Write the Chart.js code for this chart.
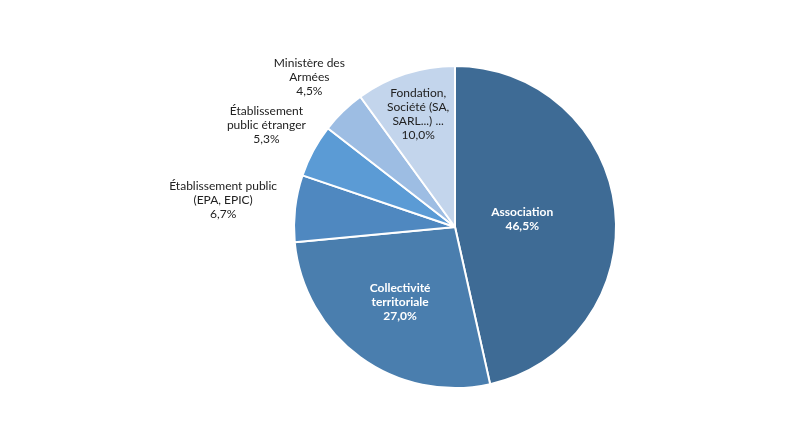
<!DOCTYPE html>
<html><head><meta charset="utf-8">
<script src="https://cdn.jsdelivr.net/npm/chart.js@4"></script>
<style>html,body{margin:0;background:#fff}#wrap{width:792px;height:445px}</style>
</head><body><div id="wrap"><canvas id="c"></canvas></div>
<script>
const categories = ["Association", "Collectivité territoriale", "Établissement public (EPA, EPIC)", "Établissement public étranger", "Ministère des Armées", "Fondation, Société (SA, SARL...) ..."];
const shares = [46.5, 27.0, 6.7, 5.3, 4.5, 10.0];
const labelLines = [["Association"], ["Collectivité", "territoriale"], ["Établissement public", "(EPA, EPIC)"], ["Établissement", "public étranger"], ["Ministère des", "Armées"], ["Fondation,", "Société (SA,", "SARL...) ..."]];
const colors = ["#3e6b95", "#4a7eae", "#4f88c0", "#5b9bd5", "#9dbde3", "#c3d5ec"];

// facteur du rayon pour placer chaque étiquette
const labelRadius = [0.42, 0.58, 1.45, 1.33, 1.3, 0.74];
const labelColor = ["#fff", "#fff", "#222", "#222", "#222", "#222"];

const labelPlugin = {
  id: "labels",
  afterDatasetsDraw(chart) {
    const ctx = chart.ctx;
    chart.getDatasetMeta(0).data.forEach((arc, i) => {
      const p = arc.getProps(["x", "y", "startAngle", "endAngle", "outerRadius"]);
      const a = (p.startAngle + p.endAngle) / 2;
      const r = p.outerRadius * labelRadius[i];
      const x = p.x + Math.cos(a) * r, y = p.y + Math.sin(a) * r;
      const lines = labelLines[i].concat([shares[i].toFixed(1).replace(".", ",") + "%"]);
      ctx.save();
      ctx.fillStyle = labelColor[i];
      ctx.font = (i < 2 ? "bold " : "") + "12px Lato";
      ctx.textAlign = "center";
      ctx.textBaseline = "middle";
      const lh = 14;
      lines.forEach((t, k) => ctx.fillText(t, x, y + (k - (lines.length - 1) / 2) * lh));
      ctx.restore();
    });
  }
};

new Chart(document.getElementById("c"), {
  type: "pie",
  data: { labels: categories, datasets: [{ data: shares, backgroundColor: colors, borderColor: "#fff", borderWidth: 2 }] },
  options: {
    responsive: true, maintainAspectRatio: false, animation: false,
    layout: { padding: { left: 118, top: 65, bottom: 56, right: 0 } },
    plugins: { legend: { display: false }, tooltip: { enabled: false } }
  },
  plugins: [labelPlugin]
});
</script></body></html>
